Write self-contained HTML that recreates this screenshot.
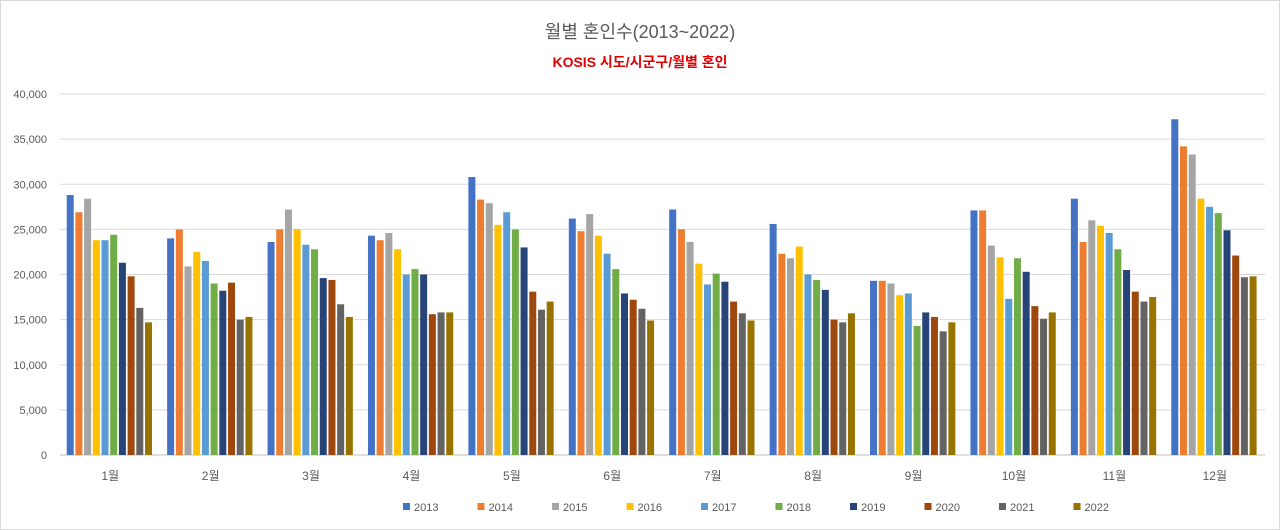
<!DOCTYPE html>
<html><head><meta charset="utf-8"><style>
html,body{margin:0;padding:0;background:#fff}
svg{display:block;font-family:"Liberation Sans","Noto Sans CJK KR",sans-serif}
</style></head><body>
<svg id="chart" width="1280" height="530" viewBox="0 0 1280 530">
<rect x="0.5" y="0.5" width="1279" height="529" fill="#fff" stroke="#d9d9d9"/>
<text x="640" y="38" text-anchor="middle" font-size="18" fill="#595959">월별 혼인수(2013~2022)</text>
<text x="640" y="67" text-anchor="middle" font-size="14" font-weight="bold" fill="#e00000">KOSIS 시도/시군구/월별 혼인</text>
<g id="grid"></g><g id="bars"></g><g id="axes"></g><g id="legend"></g>
</svg>
<script>
const categories=["1월","2월","3월","4월","5월","6월","7월","8월","9월","10월","11월","12월"];
const years=["2013","2014","2015","2016","2017","2018","2019","2020","2021","2022"];
const colors=["#4472C4","#ED7D31","#A5A5A5","#FFC000","#5B9BD5","#70AD47","#264478","#9E480E","#636363","#997300"];
const s2013=[28800,24000,23600,24300,30800,26200,27200,25600,19300,27100,28400,37200];
const s2014=[26900,25000,25000,23800,28300,24800,25000,22300,19300,27100,23600,34200];
const s2015=[28400,20900,27200,24600,27900,26700,23600,21800,19000,23200,26000,33300];
const s2016=[23800,22500,25000,22800,25500,24300,21200,23100,17700,21900,25400,28400];
const s2017=[23800,21500,23300,20000,26900,22300,18900,20000,17900,17300,24600,27500];
const s2018=[24400,19000,22800,20600,25000,20600,20100,19400,14300,21800,22800,26800];
const s2019=[21300,18200,19600,20000,23000,17900,19200,18300,15800,20300,20500,24900];
const s2020=[19800,19100,19400,15600,18100,17200,17000,15000,15300,16500,18100,22100];
const s2021=[16300,15000,16700,15800,16100,16200,15700,14700,13700,15100,17000,19700];
const s2022=[14700,15300,15300,15800,17000,14900,14900,15700,14700,15800,17500,19800];
const series=[s2013,s2014,s2015,s2016,s2017,s2018,s2019,s2020,s2021,s2022];
const yTicks=[0,5000,10000,15000,20000,25000,30000,35000,40000];
const NS="http://www.w3.org/2000/svg";
const L=60,R=1265,T=94,B=455,yMax=40000;
const y=v=>B-(v/yMax)*(B-T);
const gw=(R-L)/categories.length;
const x=(i,j)=>L+gw*i+gw/2-43.5+j*8.7;
function mk(tag,attrs,parent){const e=document.createElementNS(NS,tag);for(const k in attrs)e.setAttribute(k,attrs[k]);document.getElementById(parent).appendChild(e);return e;}
yTicks.forEach(t=>{
 const l=mk('line',{x1:L,x2:R,y1:y(t),y2:y(t),stroke:t===0?'#bfbfbf':'#d9d9d9','stroke-width':1},'grid');
 
 
 const tx=mk('text',{x:L-13,y:y(t)+4,'text-anchor':'end','font-size':11,fill:'#595959'},'axes');
 tx.textContent=t.toLocaleString('en-US');
 
 
});
categories.forEach((c,i)=>{
 series.forEach((s,j)=>{
  const r=mk('rect',{x:x(i,j),y:y(s[i]),width:7,height:B-y(s[i]),fill:colors[j]},'bars');
  
  
 });
 const tx=mk('text',{x:L+gw*i+gw/2,y:480,'text-anchor':'middle','font-size':12,fill:'#595959'},'axes');
 tx.textContent=c;
 
 
});
years.forEach((yr,j)=>{
 const lx=403+j*74.5;
 const sq=mk('rect',{x:lx,y:503,width:7,height:7,fill:colors[j]},'legend');
 
 
 const tx=mk('text',{x:lx+11,y:511,'font-size':11,fill:'#595959'},'legend');
 tx.textContent=yr;
 
 
});
</script>
</body></html>
